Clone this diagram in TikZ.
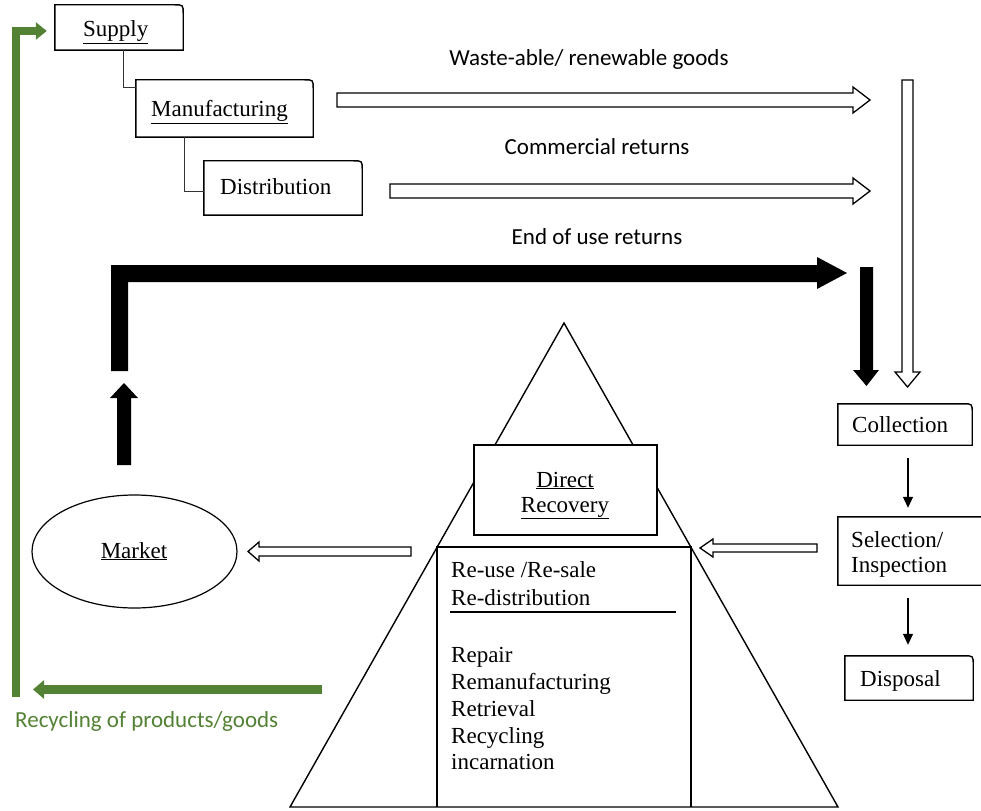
\documentclass[tikz,border=0pt]{standalone}
\usepackage{fontspec}
\setmainfont{Liberation Serif}
\newfontfamily\calib{Carlito}
\usetikzlibrary{shapes.geometric,arrows.meta,calc}
\definecolor{recgreen}{RGB}{84,130,53}
\newcommand{\rtbox}[1]{\draw[boxline] (#1.south west) -- (#1.north west) -- ($(#1.north east)+(-9,0)$) .. controls (#1.north east) .. ($(#1.north east)+(0,9)$) -- (#1.south east) -- cycle;}
\begin{document}
\begin{tikzpicture}[x=1pt,y=-1pt, font=\fontsize{23}{27}\selectfont,
  boxline/.style={line width=1.4pt, line join=miter},
  boxnode/.style={inner sep=0pt, draw=none},
  txt/.style={inner sep=0pt, anchor=base west},
  ctxt/.style={inner sep=0pt, anchor=base},
  sanslabel/.style={inner sep=0pt, anchor=base, font=\calib\fontsize{23}{27}\selectfont},
  hollow/.style={draw=black, line width=1.3pt, fill=white, line join=miter},
  solid arrow/.style={fill=black, draw=none},
  thinarrow/.style={line width=1.3pt, -{Triangle[length=11pt,width=10pt]}},
  linker/.style={line width=1.3pt, black!80},
  greenline/.style={draw=recgreen, line width=8.5pt, line join=miter}]
\useasboundingbox (0,0) rectangle (981,810);
\fill[white] (0,0) rectangle (981,810);

% top boxes
\node[boxnode, minimum width=128, minimum height=45] (sup) at (119,27.5) {};
\node[boxnode, minimum width=177, minimum height=57] (man) at (224.5,108.5) {};
\node[boxnode, minimum width=158, minimum height=54] (dis) at (283,188) {};
\rtbox{sup}
\rtbox{man}
\rtbox{dis}
\node[txt] (supt) at (83,37) {\underline{Supply}};
\node[txt] (mant) at (151,117) {\underline{Manufacturing}};
\node[txt] (dist) at (220,195) {Distribution};
\draw[linker] ($(sup.south west)+(69,0)$) |- ($(man.north west)+(0,8)$);
\draw[linker] ($(man.south west)+(49,0)$) |- ($(dis.north west)+(0,31)$);

% flow labels
\node[sanslabel] (l1) at (589,66) {Waste-able/ renewable goods};
\node[sanslabel] (l2) at (597,155) {Commercial returns};
\node[sanslabel] (l3) at (597,244) {End of use returns};

% hollow arrows top
\draw[hollow] (337,93) -- (853,93) -- (853,87) -- (870,100) -- (853,113) -- (853,107) -- (337,107) -- cycle;
\draw[hollow] (390,184) -- (853,184) -- (853,178) -- (870,191) -- (853,204) -- (853,198) -- (390,198) -- cycle;
\draw[hollow] (902,80) -- (913,80) -- (913,372) -- (920,372) -- (907.5,387) -- (895,372) -- (902,372) -- cycle;

% black arrows
\fill[solid arrow] (111,371) -- (111,265) -- (817,265) -- (817,257) -- (847,273) -- (817,289) -- (817,282) -- (128,282) -- (128,371) -- cycle;
\fill[solid arrow] (860,267) -- (873,267) -- (873,370) -- (879,370) -- (866.5,386) -- (853,370) -- (860,370) -- cycle;
\fill[solid arrow] (117,465) -- (117,398) -- (110,398) -- (124,383) -- (138,398) -- (131,398) -- (131,465) -- cycle;

% right column
\node[boxnode, minimum width=134, minimum height=41] (col) at (905,424.5) {};
\node[boxnode, minimum width=152, minimum height=68] (sel) at (914,551) {};
\node[boxnode, minimum width=128, minimum height=44] (dsp) at (909,678) {};
\rtbox{col}
\rtbox{sel}
\rtbox{dsp}
\node[txt] (colt) at (852,432) {Collection};
\node[txt] (selt1) at (851,547) {Selection/};
\node[txt] (selt2) at (851,572) {Inspection};
\node[txt] (dspt) at (860,686) {Disposal};
\draw[thinarrow] ($(col.south)+(3,13)$) -- ($(col.south |- sel.north)+(3,-9)$);
\draw[thinarrow] ($(sel.south -| col.south)+(3,13)$) -- ($(dsp.north -| col.south)+(3,-11)$);

% pyramid
\draw[boxline] (290,807) -- (564,323) -- (838,807) -- cycle;
\draw[boxline] (437,807) -- (437,547) -- (691,547) -- (691,807);
\node[boxnode, draw=black, fill=white, line width=1.4pt, minimum width=183, minimum height=90] (dr) at (565.5,490) {};
\node[ctxt] (drt1) at (565,487) {\underline{Direct}};
\node[ctxt] (drt2) at (565,512) {\underline{Recovery}};
\node[txt] (r1) at (451,577) {Re-use /Re-sale};
\node[txt] (r2) at (451,605) {Re-distribution};
\draw[line width=1.2pt] (450,612) -- (676,612);
\node[txt] (r3) at (451,662) {Repair};
\node[txt] (r4) at (451,689) {Remanufacturing};
\node[txt] (r5) at (451,716) {Retrieval};
\node[txt] (r6) at (451,743) {Recycling};
\node[txt] (r7) at (451,769) {incarnation};

% side hollow arrows
\draw[hollow] (817,544) -- (713,544) -- (713,539) -- (700,548) -- (713,557) -- (713,552) -- (817,552) -- cycle;
\draw[hollow] (411,547) -- (259,547) -- (259,542) -- (248,551.5) -- (259,561) -- (259,556) -- (411,556) -- cycle;

% market
\node[ellipse, draw, line width=1.2pt, minimum width=205, minimum height=113, inner sep=0pt] (mkt) at (134.5,551.5) {};
\node[ctxt] (mktt) at (134,558) {\underline{Market}};

% green recycling loop
\draw[greenline, -{Triangle[length=11pt,width=17pt]}] (16,697) -- (16,31) -- ($(sup.west)+(-8,3.5)$);
\draw[greenline, -{Triangle[length=11pt,width=18pt]}] (322,689.5) -- (33,689.5);
\node[txt, text=recgreen, font=\calib\fontsize{23}{27}\selectfont] (gl) at (15,727) {Recycling of products/goods};
\end{tikzpicture}
\end{document}
